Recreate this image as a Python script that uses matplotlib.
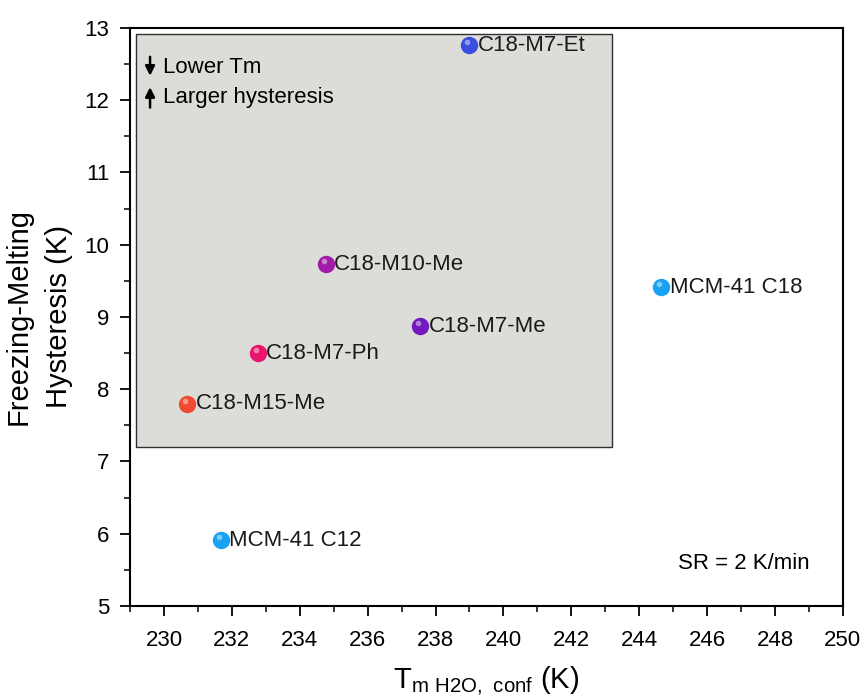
import matplotlib
matplotlib.use("Agg")
import matplotlib.pyplot as plt
from matplotlib.patches import Rectangle
from matplotlib.ticker import MultipleLocator

plt.rcParams['font.family'] = ['Liberation Sans', 'DejaVu Sans']

# data
samples = ["C18-M7-Et", "C18-M10-Me", "C18-M7-Me", "C18-M7-Ph", "C18-M15-Me",
           "MCM-41 C12", "MCM-41 C18"]
t_melt = [239.0, 234.77, 237.55, 232.77, 230.68, 231.68, 244.65]
hysteresis = [12.76, 9.73, 8.87, 8.5, 7.8, 5.91, 9.41]
colors = ["#3a4ee0", "#a21aa8", "#7418c0", "#e8166c", "#f04a32", "#1aa2f2", "#1aa2f2"]

fig = plt.figure(figsize=(8.64, 7.0), dpi=100)
ax = fig.add_axes([0.1505, 0.1343, 0.825, 0.8257])

# shaded region
ax.add_patch(Rectangle((229.18, 7.2), 243.2 - 229.18, 12.92 - 7.2,
                       facecolor="#dcdcd8", edgecolor="#303030", linewidth=1.0, zorder=0))

for name, x, y, c in zip(samples, t_melt, hysteresis, colors):
    ax.plot(x, y, "o", ms=11.5, color=c, mec=c, zorder=3)
    ax.plot(x - 0.07, y + 0.04, "o", ms=4, color="white", alpha=0.45, mec="none", zorder=4)
    ax.annotate(name, (x, y), xytext=(6, 0), textcoords="offset points",
                va="center", ha="left", fontsize=16, color="#1a1a1a", zorder=5)

# arrows + note
ax.annotate("", xy=(229.59, 12.3), xytext=(229.59, 12.64),
            arrowprops=dict(arrowstyle="-|>", color="black", lw=1.8, mutation_scale=14))
ax.annotate("", xy=(229.59, 12.22), xytext=(229.59, 11.86),
            arrowprops=dict(arrowstyle="-|>", color="black", lw=1.8, mutation_scale=14))
ax.text(229.97, 12.45, "Lower Tm", fontsize=16, va="center", ha="left")
ax.text(229.97, 12.04, "Larger hysteresis", fontsize=16, va="center", ha="left")

ax.text(0.953, 0.073, "SR = 2 K/min", transform=ax.transAxes, fontsize=16,
        ha="right", va="center")

ax.set_xlim(229, 250)
ax.set_ylim(5, 13)
ax.xaxis.set_minor_locator(MultipleLocator(1))
ax.yaxis.set_major_locator(MultipleLocator(1))
ax.yaxis.set_minor_locator(MultipleLocator(0.5))
ax.set_xticks(range(230, 251, 2))
ax.tick_params(which="major", direction="out", length=7, width=1.3, labelsize=16)
ax.tick_params(axis="x", which="major", pad=10)
ax.tick_params(axis="y", which="major", pad=8)
ax.tick_params(which="minor", direction="out", length=4, width=1.1)
for s in ax.spines.values():
    s.set_linewidth(1.5)

ax.set_xlabel(r"T$_{\mathregular{m\ H2O,\ conf}}$ (K)", fontsize=21, labelpad=10)
ax.set_ylabel("Freezing-Melting\nHysteresis (K)", fontsize=21, linespacing=1.55)
ax.yaxis.set_label_coords(-0.08, 0.5)

fig.savefig("out.png", dpi=100)
